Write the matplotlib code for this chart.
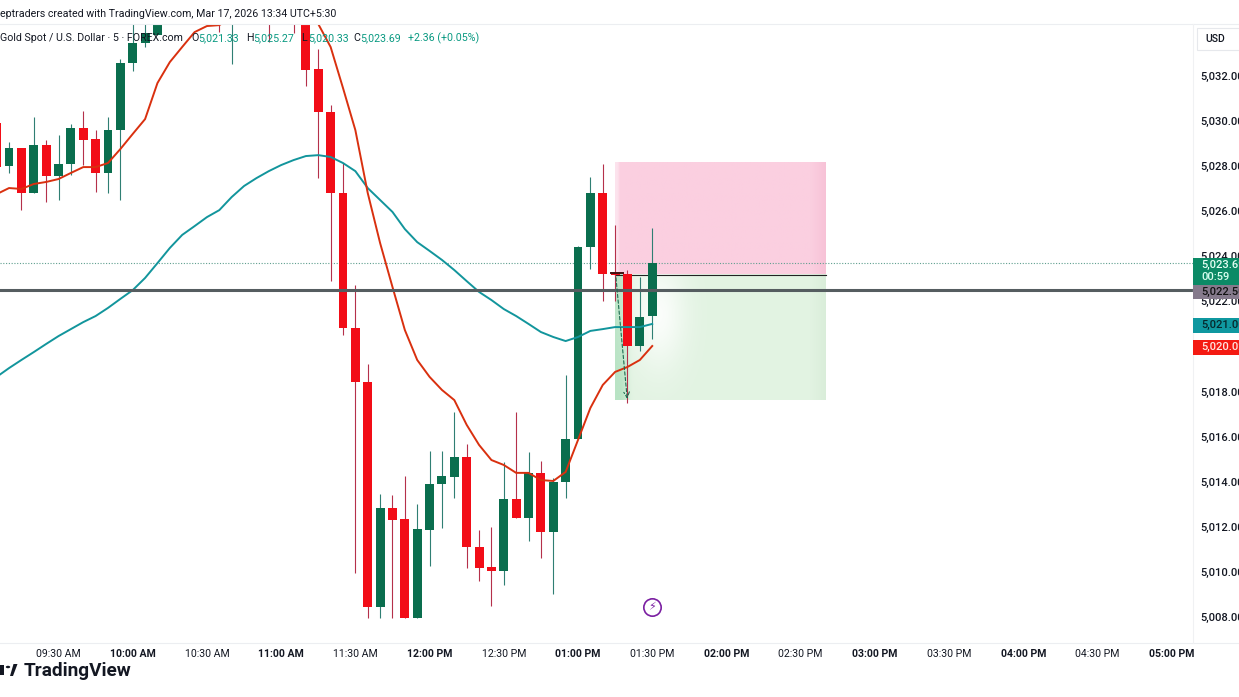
import matplotlib
matplotlib.use("Agg")
import matplotlib.pyplot as plt
import numpy as np
from matplotlib.patches import Rectangle, Polygon, Circle

plt.rcParams['font.family'] = ['Roboto', 'DejaVu Sans']

W, H = 1239, 697
UP, DOWN = '#0a6e4e', '#f20d17'
UP_WICK, DOWN_WICK = '#2f7f73', '#b5304a'

bar_index = list(range(-47, 7))
opens = [5029.91,5028.01,5028.81,5026.81,5028.94,5027.56,
         5028.10,5029.69,5029.20,5027.70,5029.60,5032.58,
         5033.46,5033.82,5035.40,5035.60,5035.80,5036.00,
         5036.40,5036.20,5036.60,5036.80,5036.50,5036.20,
         5036.00,5035.80,5032.31,5030.40,5026.81,5020.82,
         5018.42,5008.44,5012.83,5012.35,5007.95,5011.86,
         5013.90,5014.21,5015.10,5011.10,5010.22,5010.04,
         5013.23,5012.39,5014.39,5011.77,5013.99,5015.90,
         5024.41,5026.81,5023.26,5023.22,5020.02,5021.33]
closes = [5027.96,5028.81,5026.81,5028.94,5027.56,5028.10,
          5029.69,5029.16,5027.70,5029.60,5032.58,5033.46,
          5033.91,5035.40,5035.60,5035.80,5036.00,5036.40,
          5036.20,5036.60,5036.80,5036.50,5036.20,5036.00,
          5035.80,5032.27,5030.40,5026.81,5020.82,5018.42,
          5008.44,5012.83,5012.30,5007.95,5011.90,5013.90,
          5014.25,5015.10,5011.10,5010.17,5010.04,5013.23,
          5012.39,5014.39,5011.77,5013.99,5015.90,5024.41,
          5026.81,5023.22,5023.17,5020.02,5021.31,5023.69]
highs = [5030.20,5029.07,5028.81,5030.18,5029.16,5029.38,
         5029.87,5030.45,5029.60,5030.18,5032.75,5034.60,
         5034.60,5035.60,5035.90,5036.10,5036.30,5036.70,
         5036.90,5037.00,5037.00,5037.00,5036.90,5036.50,
         5036.30,5036.00,5033.20,5030.71,5028.14,5022.73,
         5019.22,5013.45,5013.41,5014.25,5013.01,5015.36,
         5015.36,5017.09,5015.67,5011.86,5011.99,5014.87,
         5017.09,5015.32,5014.92,5014.17,5018.73,5024.46,
         5027.52,5028.10,5025.39,5023.39,5023.08,5025.27]
lows = [5027.50,5027.70,5026.05,5026.81,5026.41,5026.50,
        5027.61,5028.05,5026.85,5026.81,5026.50,5032.22,
        5033.29,5033.82,5035.00,5035.20,5035.40,5035.60,
        5033.95,5032.53,5035.60,5035.60,5033.51,5035.20,
        5033.91,5031.56,5027.47,5022.90,5020.51,5009.95,
        5007.95,5007.95,5007.95,5007.95,5007.95,5010.26,
        5011.95,5013.28,5010.17,5009.60,5008.49,5009.42,
        5012.39,5011.37,5010.62,5009.02,5013.28,5015.90,
        5023.44,5022.02,5022.02,5017.49,5019.80,5020.33]

ema_fast = [5026.76,5027.03,5026.99,5027.21,5027.30,5027.43,5027.70,5027.96,5027.96,5028.14,5028.76,5029.43,5030.09,5031.69,
            5032.62,5033.29,5033.95,5034.22,5034.26,5034.6,5035.0,5035.3,5035.5,5035.5,5035.3,5034.9,5034.31,5033.29,5031.47,
            5029.60,5026.81,5024.59,5022.64,5020.73,5019.40,5018.65,5018.07,5017.62,5016.52,5015.63,5014.96,5014.74,5014.39,5014.39,
            5014.07,5014.03,5014.43,5015.85,5017.27,5018.29,5018.87,5019.09,5019.40,5020.02]
ema_slow = [5018.65,5019.04,5019.40,5019.75,5020.11,5020.46,5020.77,5021.08,5021.35,5021.71,5022.11,5022.50,5023.04,5023.70,
            5024.37,5024.95,5025.34,5025.74,5026.05,5026.63,5027.12,5027.47,5027.78,5028.05,5028.27,5028.45,5028.49,5028.41,
            5028.14,5027.78,5027.03,5026.50,5025.97,5025.21,5024.63,5024.24,5023.84,5023.39,5022.90,5022.42,5022.06,5021.66,5021.35,
            5021.00,5020.64,5020.42,5020.24,5020.42,5020.69,5020.77,5020.86,5020.86,5020.86,5021.00]

time_labels = ['09:30 AM','10:00 AM','10:30 AM','11:00 AM','11:30 AM','12:00 PM','12:30 PM','01:00 PM','01:30 PM',
               '02:00 PM','02:30 PM','03:00 PM','03:30 PM','04:00 PM','04:30 PM','05:00 PM']
time_ticks = list(range(-42, 54, 6))
price_ticks = list(range(5008, 5034, 2))

last_price = 5023.69
level_price = 5022.5
stop_price, entry_price, target_price = 5028.18, 5023.17, 5017.62
box_start, box_end = 3, 20.05

fig = plt.figure(figsize=(W/100, H/100), dpi=100, facecolor='white')
ax = fig.add_axes([0, 1-643/H, 1193/W, (643-24)/H])
for s in ax.spines.values():
    s.set_visible(False)

# position box, with the soft shading of the source image
def shaded(y0, y1, base, edge, left, left_w, glow):
    gx, gy = np.meshgrid(np.linspace(box_start, box_end, 220), np.linspace(y1, y0, 120))
    img = np.ones(gx.shape + (3,)) * np.array(matplotlib.colors.to_rgb(base))
    rgb_edge = np.array(matplotlib.colors.to_rgb(edge))
    e = np.clip((gx - (box_end - 1.2)) / 1.2, 0, 1)[..., None] * 0.7
    img = img * (1 - e) + rgb_edge * e
    l = np.exp(-((gx - box_start) / left_w) ** 4)[..., None]
    img = img * (1 - l) + np.array(matplotlib.colors.to_rgb(left)) * l
    if glow:
        g = 0.85 * np.exp(-((gx - 6.5) / 2.2) ** 2 - ((gy - 5021.4) / 2.4) ** 2)[..., None]
        img = img * (1 - g) + g
    ax.imshow(img, extent=(box_start, box_end, y0, y1), aspect='auto', zorder=1, interpolation='bilinear')

shaded(entry_price, stop_price, '#fbcfe0', '#f6bdd3', '#fde4ee', 0.3, False)
shaded(target_price, entry_price, '#e2f3e2', '#d6ebd6', '#b8e3c4', 1.0, True)
ax.plot([box_start, box_end], [entry_price, entry_price], color='#222', lw=0.8, zorder=2)

ax.axhline(last_price, color='#5f9f8f', lw=0.8, ls=(0, (1, 1.5)), zorder=2)

for x, o, c, h, l in zip(bar_index, opens, closes, highs, lows):
    up = c >= o
    ax.plot([x, x], [l, h], color=UP_WICK if up else DOWN_WICK, lw=0.8, zorder=3, solid_capstyle='butt')
    ax.add_patch(Rectangle((x-0.36, min(o, c)), 0.72, max(abs(c-o), 0.09), fc=UP if up else DOWN, ec='none', zorder=4))

ax.plot(bar_index, ema_slow, color='#12959c', lw=1.4, zorder=5)
ax.plot(bar_index, ema_fast, color='#d9300f', lw=1.4, zorder=5)
ax.axhline(level_price, color='#555d60', lw=2.2, zorder=6)

ax.plot([2.7, 3.6], [5023.25, 5023.25], color='#401010', lw=1.4, zorder=7)
ax.annotate('', xy=(4, 5017.55), xytext=(3.05, entry_price),
            arrowprops=dict(arrowstyle='->', color='#1b6b50', lw=0.8, ls=(0, (3, 2))), zorder=7)

# flash marker
ax.plot([6], [5008.44], 'o', ms=12.5, mfc='white', mec='#7b1fa2', mew=1.2, zorder=7)
ax.text(6, 5008.44, '\u26a1', color='#7b1fa2', fontsize=8, ha='center', va='center', family='DejaVu Sans', zorder=8)

ax.set_xlim(-46.73, 49.72)
ax.set_ylim(5006.84, 5034.31)
ax.set_xticks(time_ticks)
ax.set_xticklabels(time_labels, fontsize=7.6, color='#131722')
for lab in ax.get_xticklabels():
    if ':00' in lab.get_text():
        lab.set_fontweight('bold')
ax.tick_params(axis='x', length=0, pad=4)
ax.yaxis.tick_right()
ax.set_yticks(price_ticks)
ax.set_yticklabels([f'{p:,.2f}' for p in price_ticks], fontsize=8, color='#131722', fontweight='medium')
ax.tick_params(axis='y', length=0, pad=5)

def px(x, y):
    return x/W, 1-y/H

# frame lines
for y in (24, 643):
    fig.add_artist(plt.Line2D([0, 1], [1-y/H]*2, color='#eceef1', lw=0.8))
fig.add_artist(plt.Line2D([1193/W]*2, [1-24/H, 1-643/H], color='#f0f1f3', lw=0.8))

# header
FS = 7.65
fig.text(*px(0, 14), 'eptraders created with TradingView.com, Mar 17, 2026 13:34 UTC+5:30', fontsize=FS, color='#131722', va='center')
fig.text(*px(0, 38), 'Gold Spot / U.S. Dollar \u00b7 5 \u00b7 FOREX.com', fontsize=FS, color='#131722', va='center', zorder=10)
teal = '#089981'
ohlc = [(191, 'O', '5,021.33'), (246, 'H', '5,025.27'), (301, 'L', '5,020.33'), (353, 'C', '5,023.69')]
for xp, k, v in ohlc:
    fig.text(*px(xp, 38), k, fontsize=FS, color='#131722', va='center', zorder=10)
    fig.text(*px(xp+7, 38), v, fontsize=FS, color=teal, va='center', zorder=10)
fig.text(*px(408, 38), '+2.36 (+0.05%)', fontsize=FS, color=teal, va='center', zorder=10)

# price labels on the axis
def tag(y0, y1, color):
    fig.add_artist(Rectangle((1193/W, 1-y1/H), 46/W, (y1-y0)/H, transform=fig.transFigure, fc=color, ec='none', zorder=20))
tag(258, 289, '#0b8a66')
tag(285, 299, '#857a8c')
tag(318, 333, '#0f98a0')
tag(340, 355, '#f41a12')
for y, s, c in [(265, '5,023.69', '#e8fff5'), (277, '00:59', '#d8fff0'), (292, '5,022.50', '#111'),
                (325, '5,021.00', '#06282c'), (347, '5,020.02', '#ffe5e0')]:
    fig.text(*px(1201, y), s, fontsize=8, color=c, va='center', zorder=21, fontweight='medium')

# USD button
fig.add_artist(Rectangle((1197/W, 1-50/H), 60/W, 22/H, transform=fig.transFigure, fc='white', ec='#e6e8ec', lw=0.8, zorder=20))
fig.text(*px(1205, 39), 'USD', fontsize=7.6, color='#131722', va='center', zorder=21, fontweight='medium')

# logo
fig.text(*px(24, 671), 'TradingView', fontsize=13.7, color='#131722', va='center', fontweight='bold')
k = '#131722'
fig.add_artist(Rectangle((0, 1-675/H), 3.5/W, 10/H, transform=fig.transFigure, fc=k, ec='none'))
fig.add_artist(Polygon([px(10, 676), px(13, 676), px(17.5, 664), px(13.5, 664)], closed=True, transform=fig.transFigure, fc=k, ec='none'))
fig.add_artist(Circle(px(8, 667), 2.2/W, transform=fig.transFigure, fc=k, ec='none'))

fig.savefig('out.png', dpi=100)
